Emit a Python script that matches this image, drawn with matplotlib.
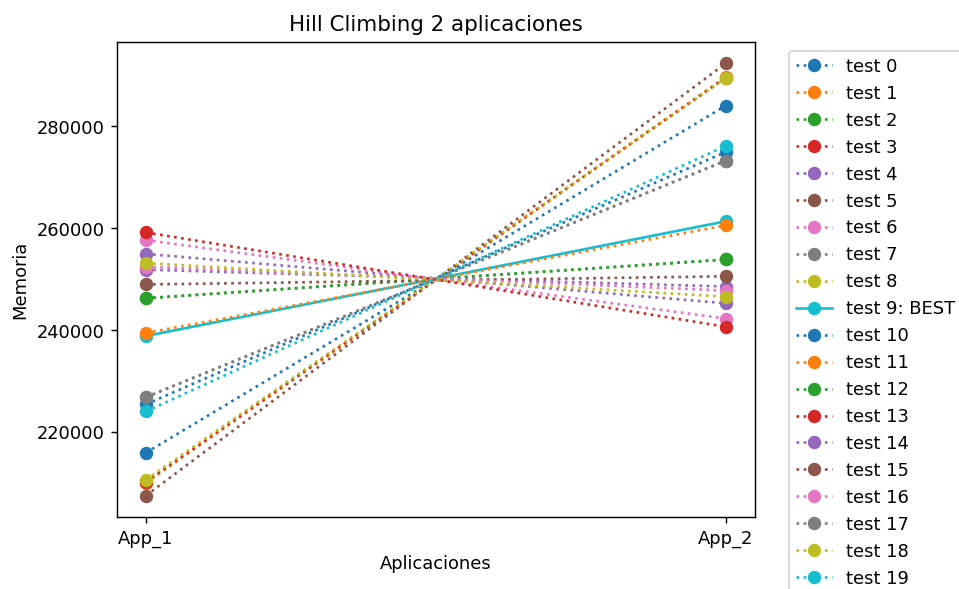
import matplotlib
matplotlib.use("Agg")
import matplotlib.pyplot as plt

# memory used per application for each hill-climbing run
apps = ["App_1", "App_2"]
tests = [f"test {i}" for i in range(20)]
app1 = [216000, 210100, 246300, 210300, 255000, 207600, 257700, 226900, 210700, 238900,
        225500, 239500, 246300, 259200, 251900, 249000, 252500, 226900, 253200, 224100]
app2 = [284100, 289700, 253900, 289600, 245300, 292400, 242300, 273300, 289500, 261400,
        275000, 260600, 253900, 240700, 248600, 250600, 247800, 273300, 246600, 276200]
best = 9

W, H, DPI = 959, 589, 128.6
fig = plt.figure(figsize=((W + 0.2) / DPI, (H + 0.2) / DPI), dpi=DPI)
ax = fig.add_axes([0.122, 0.122, 0.665, 0.807])

colors = plt.rcParams["axes.prop_cycle"].by_key()["color"]
for i, name in enumerate(tests):
    c = colors[i % len(colors)]
    if i == best:
        ax.plot(apps, [app1[i], app2[i]], "-o", color=c, ms=6.5, label=f"{name}: BEST")
    else:
        ax.plot(apps, [app1[i], app2[i]], ":o", color=c, ms=6.5, label=name)

ax.set_title("Hill Climbing 2 aplicaciones")
ax.set_xlabel("Aplicaciones")
ax.set_ylabel("Memoria")
ax.legend(bbox_to_anchor=(1.04, 1), loc="upper left")

fig.savefig("out.png", dpi=DPI)
